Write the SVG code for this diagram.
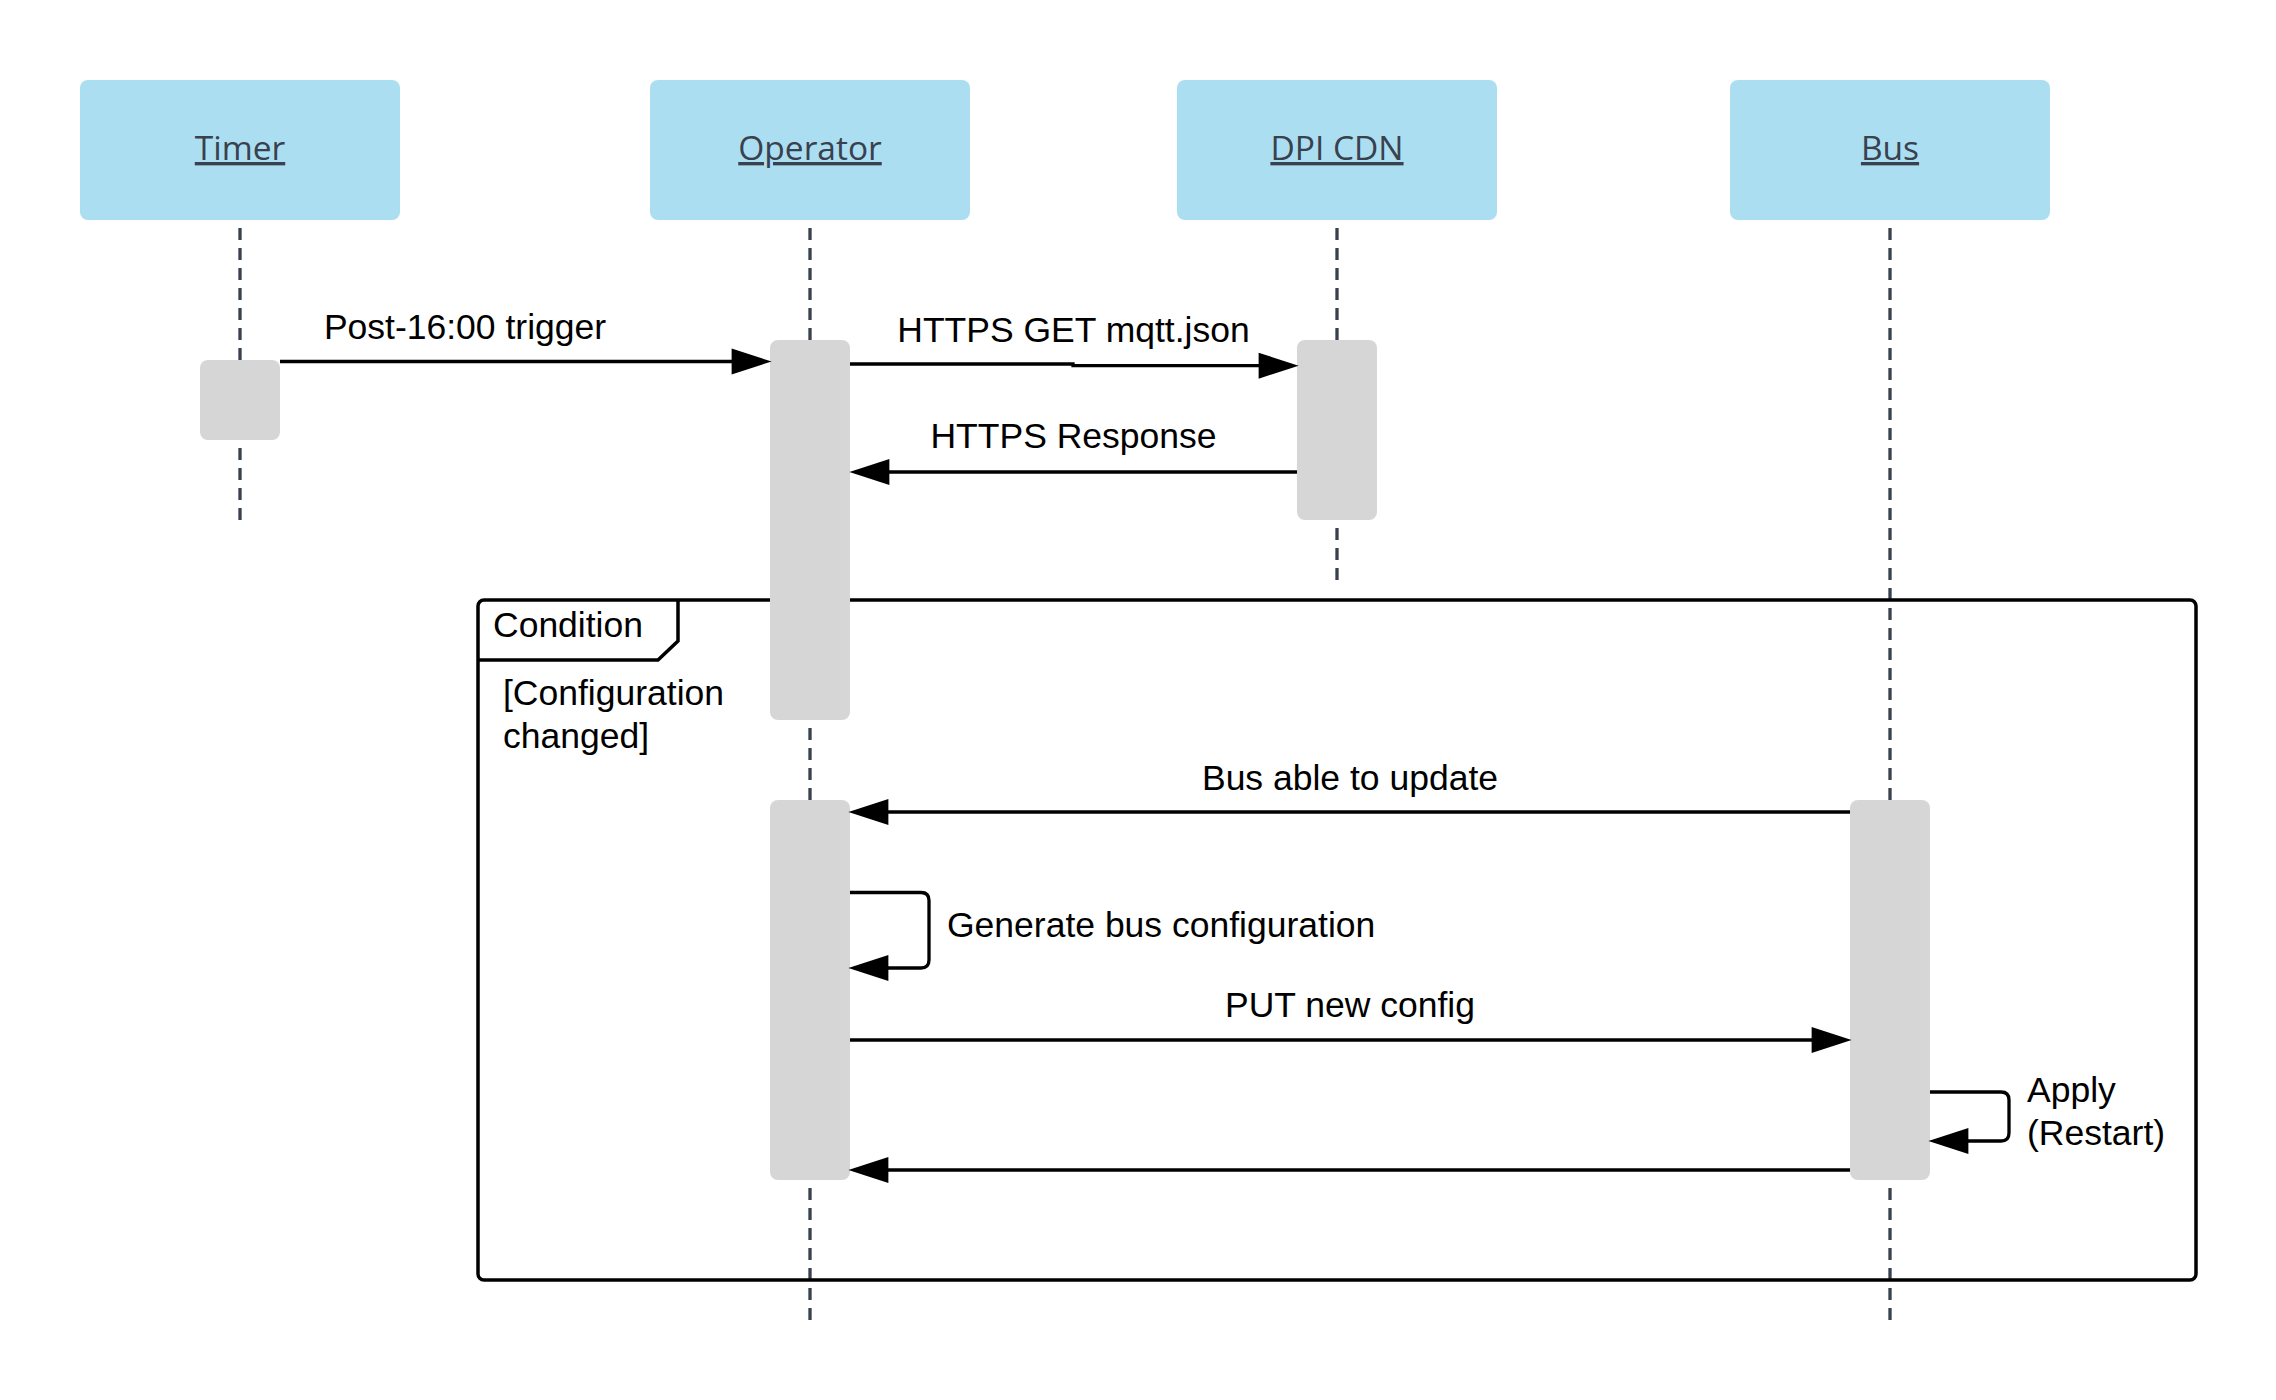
<svg xmlns="http://www.w3.org/2000/svg" width="2276" height="1400" viewBox="0 0 2276 1400">
  <style>
    .head { fill: #acdef2; }
    .htext { font-family: "Open Sans", "Liberation Sans", sans-serif; font-size: 33.5px; fill: #38414d; text-anchor: middle; text-decoration: underline; }
    .life { stroke: #38414d; stroke-width: 3.3; stroke-dasharray: 12 8; fill: none; }
    .act { fill: #d6d6d6; }
    .msg { stroke: #000; stroke-width: 3.3; fill: none; marker-end: url(#arrow); }
    .lbl { font-family: "Liberation Sans", Arial, sans-serif; font-size: 35.5px; fill: #000; }
    .mid { text-anchor: middle; }
    .frame { stroke: #000; stroke-width: 3.5; fill: none; }
  </style>
  <defs>
    <marker id="arrow" markerUnits="userSpaceOnUse" markerWidth="40" markerHeight="26" viewBox="0 0 37 24" refX="17" refY="12" orient="auto" overflow="visible">
      <path d="M0,0 L37,12 L0,24 Z" fill="#000"/>
    </marker>
  </defs>
  <rect width="2276" height="1400" fill="#fff"/>

  <!-- lifelines (drawn bottom-up so they end on a dash) -->
  <g id="lifelines">
    <line class="life" x1="240" y1="520" x2="240" y2="220"/>
    <line class="life" x1="810" y1="1320" x2="810" y2="220"/>
    <line class="life" x1="1337" y1="580" x2="1337" y2="220"/>
    <line class="life" x1="1890" y1="1320" x2="1890" y2="220"/>
  </g>

  <!-- combined fragment -->
  <g id="condition-frame">
    <rect class="frame" x="478" y="600" width="1718" height="680" rx="6"/>
    <path class="frame" d="M678,600 V641 L658,660 H478"/>
    <text class="lbl" x="493" y="637">Condition</text>
    <text class="lbl" x="503" y="705">[Configuration</text>
    <text class="lbl" x="503" y="748">changed]</text>
  </g>

  <g id="timer">
    <rect class="head" x="80" y="80" width="320" height="140" rx="8"/>
    <text class="htext" x="240" y="160">Timer</text>
    <rect class="act" x="200" y="360" width="80" height="80" rx="8"/>
  </g>
  <g id="operator">
    <rect class="head" x="650" y="80" width="320" height="140" rx="8"/>
    <text class="htext" x="810" y="160">Operator</text>
    <rect class="act" x="770" y="340" width="80" height="380" rx="8"/>
    <rect class="act" x="770" y="800" width="80" height="380" rx="8"/>
  </g>
  <g id="dpi-cdn">
    <rect class="head" x="1177" y="80" width="320" height="140" rx="8"/>
    <text class="htext" x="1337" y="160">DPI CDN</text>
    <rect class="act" x="1297" y="340" width="80" height="180" rx="8"/>
  </g>
  <g id="bus">
    <rect class="head" x="1730" y="80" width="320" height="140" rx="8"/>
    <text class="htext" x="1890" y="160">Bus</text>
    <rect class="act" x="1850" y="800" width="80" height="380" rx="8"/>
  </g>

  <g id="connectors">
    <path class="msg" d="M280,361.5 H750"/>
    <text class="lbl mid" x="465" y="339">Post-16:00 trigger</text>

    <path class="msg" d="M850,364 H1073 V365.7 H1277"/>
    <text class="lbl mid" x="1073.5" y="342">HTTPS GET mqtt.json</text>

    <path class="msg" d="M1297,472 H871"/>
    <text class="lbl mid" x="1073.5" y="448">HTTPS Response</text>

    <path class="msg" d="M1850,812 H870"/>
    <text class="lbl mid" x="1350" y="790">Bus able to update</text>

    <path class="msg" d="M850,892.5 H921 Q929,892.5 929,900.5 V960 Q929,968 921,968 H870"/>
    <text class="lbl" x="947" y="937">Generate bus configuration</text>

    <path class="msg" d="M850,1040 H1830"/>
    <text class="lbl mid" x="1350" y="1017">PUT new config</text>

    <path class="msg" d="M1930,1092 H2001 Q2009,1092 2009,1100 V1133 Q2009,1141 2001,1141 H1950"/>
    <text class="lbl" x="2027" y="1102">Apply</text>
    <text class="lbl" x="2027" y="1145">(Restart)</text>

    <path class="msg" d="M1850,1170 H870"/>
  </g>
</svg>
